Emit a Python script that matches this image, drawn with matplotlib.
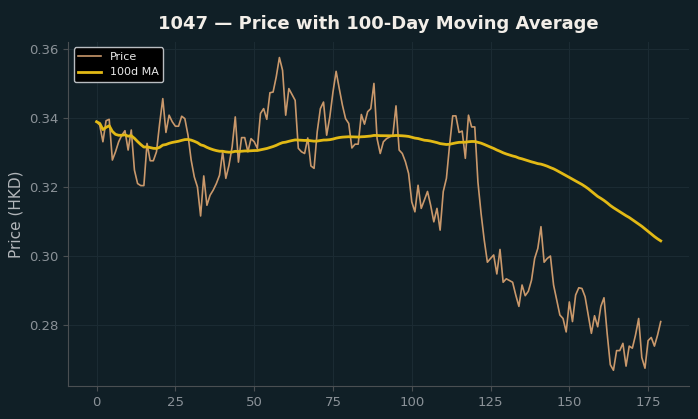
import matplotlib
matplotlib.use("Agg")
import matplotlib.pyplot as plt
import numpy as np
import pandas as pd

days = np.arange(180)
price = [
    0.3390, 0.3380, 0.3332, 0.3393, 0.3397, 0.3279, 0.3303, 0.3332, 0.3351, 0.3364,
    0.3308, 0.3366, 0.3250, 0.3211, 0.3205, 0.3205, 0.3327, 0.3277, 0.3277, 0.3303,
    0.3385, 0.3457, 0.3359, 0.3409, 0.3390, 0.3377, 0.3377, 0.3406, 0.3399, 0.3351,
    0.3279, 0.3230, 0.3201, 0.3117, 0.3233, 0.3148, 0.3177, 0.3192, 0.3211, 0.3235,
    0.3303, 0.3226, 0.3264, 0.3317, 0.3404, 0.3273, 0.3344, 0.3344, 0.3303, 0.3341,
    0.3332, 0.3313, 0.3414, 0.3428, 0.3397, 0.3474, 0.3476, 0.3520, 0.3576, 0.3539,
    0.3409, 0.3486, 0.3469, 0.3452, 0.3313, 0.3303, 0.3298, 0.3343, 0.3262, 0.3255,
    0.3361, 0.3428, 0.3447, 0.3351, 0.3404, 0.3476, 0.3536, 0.3486, 0.3438, 0.3399,
    0.3385, 0.3314, 0.3325, 0.3325, 0.3411, 0.3383, 0.3419, 0.3428, 0.3501, 0.3341,
    0.3298, 0.3332, 0.3341, 0.3346, 0.3351, 0.3436, 0.3308, 0.3298, 0.3274, 0.3240,
    0.3158, 0.3129, 0.3206, 0.3139, 0.3163, 0.3188, 0.3148, 0.3100, 0.3139, 0.3076,
    0.3188, 0.3226, 0.3322, 0.3407, 0.3407, 0.3359, 0.3363, 0.3284, 0.3409, 0.3375,
    0.3375, 0.3215, 0.3124, 0.3047, 0.2983, 0.2994, 0.3004, 0.2949, 0.3020, 0.2925,
    0.2935, 0.2930, 0.2925, 0.2888, 0.2855, 0.2917, 0.2886, 0.2899, 0.2931, 0.2994,
    0.3023, 0.3086, 0.2983, 0.2994, 0.3001, 0.2917, 0.2873, 0.2830, 0.2820, 0.2781,
    0.2868, 0.2811, 0.2888, 0.2909, 0.2907, 0.2883, 0.2830, 0.2777, 0.2828, 0.2796,
    0.2855, 0.2880, 0.2777, 0.2686, 0.2670, 0.2727, 0.2727, 0.2748, 0.2682, 0.2740,
    0.2734, 0.2772, 0.2820, 0.2707, 0.2676, 0.2756, 0.2765, 0.2740, 0.2772, 0.2811,
]
ma_window = 100
ma = pd.Series(price).rolling(ma_window, min_periods=1).mean()

title = "1047 \u2014 Price with 100-Day Moving Average"
ylabel = "Price (HKD)"

bg = "#101f26"
fig = plt.figure(figsize=(6.98, 4.19), dpi=100, facecolor=bg)
ax = fig.add_axes([0.098, 0.079, 0.889, 0.821])
ax.set_facecolor(bg)

ax.plot(days, price, color="#c9986b", lw=1.2, label="Price")
ax.plot(days, ma, color="#e2b915", lw=2.0, label="100d MA")

ax.set_xticks([0, 25, 50, 75, 100, 125, 150, 175])
ax.set_yticks([0.28, 0.30, 0.32, 0.34, 0.36])
ax.yaxis.set_major_formatter(matplotlib.ticker.FormatStrFormatter("%.2f"))
ax.grid(True, color="#1b2b33", lw=0.8)
ax.set_axisbelow(True)
for s in ["top", "right"]:
    ax.spines[s].set_visible(False)
for s in ["left", "bottom"]:
    ax.spines[s].set_color("#4a4f52")
ax.tick_params(colors="#4a4f52", labelcolor="#8b9298", labelsize=9.5)

ax.set_title(title, color="#f2eee8", fontsize=13, fontweight="bold", pad=9)
ax.set_ylabel(ylabel, color="#b2b6ba", fontsize=11)

leg = ax.legend(loc="upper left", fontsize=8, facecolor="#000000",
                edgecolor="#b8bcc0", framealpha=1.0)
for t in leg.get_texts():
    t.set_color("#e8e8e8")

fig.savefig("out.png", dpi=100, facecolor=bg)
